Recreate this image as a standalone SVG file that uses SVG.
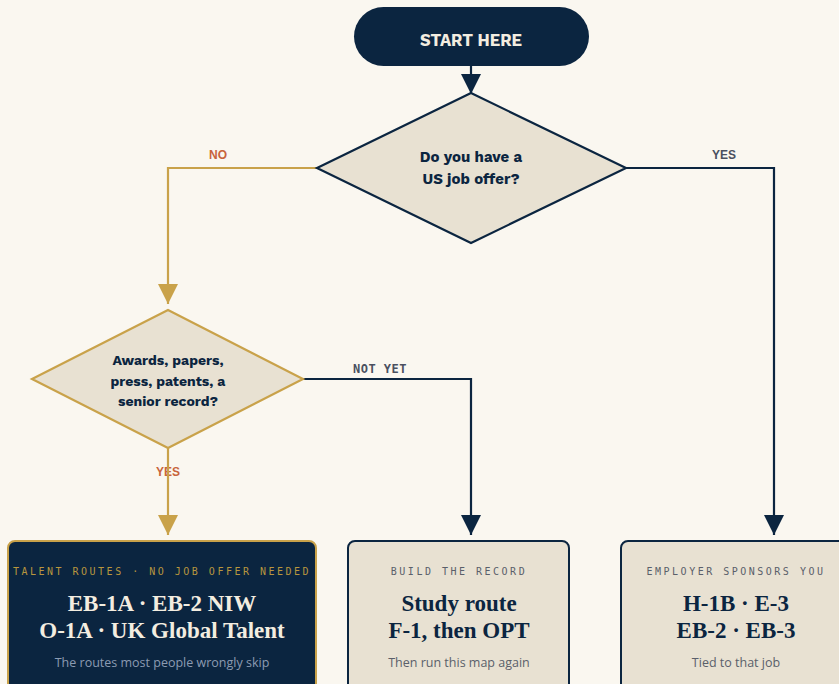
<svg xmlns="http://www.w3.org/2000/svg" width="839" height="684" viewBox="0 0 839 684">
<defs>
<style>
.bg{fill:#faf7f0}
.navy{stroke:#0b2540;stroke-width:2.2;fill:none}
.gold{stroke:#c9a24a;stroke-width:2.2;fill:none}
.dia{fill:#e8e1d2;stroke-width:2.2}
.q{font-family:"Work Sans","Liberation Sans",Arial,sans-serif;font-weight:700;fill:#0b2540;text-anchor:middle}
.lbl{font-family:"Liberation Sans",Arial,sans-serif;font-weight:700;font-size:12px}
.mono{font-family:"DejaVu Sans Mono","Liberation Mono",monospace;font-size:10px;letter-spacing:2.5px;text-anchor:middle}
.title{font-family:"Liberation Serif","Times New Roman",serif;font-weight:700;font-size:23px;text-anchor:middle}
.sub{font-family:"Open Sans","Liberation Sans",Arial,sans-serif;font-size:12.5px;text-anchor:middle}
</style>
<marker id="an" viewBox="0 0 20 20" refX="20" refY="10" markerWidth="20" markerHeight="20" markerUnits="userSpaceOnUse" orient="auto"><path d="M0,0 L20,10 L0,20 Z" fill="#0b2540"/></marker>
<marker id="ag" viewBox="0 0 20 20" refX="20" refY="10" markerWidth="20" markerHeight="20" markerUnits="userSpaceOnUse" orient="auto"><path d="M0,0 L20,10 L0,20 Z" fill="#c9a24a"/></marker>
</defs>
<rect class="bg" x="0" y="0" width="839" height="684"/>

<g id="labels">
<text class="lbl" x="218" y="159" text-anchor="middle" fill="#c8643c">NO</text>
<text class="lbl" x="724" y="159" text-anchor="middle" fill="#4a5060">YES</text>
<text class="lbl" x="380" y="373" text-anchor="middle" fill="#4a5060" style="font-family:'DejaVu Sans Mono','Liberation Mono',monospace;letter-spacing:0.5px">NOT YET</text>
<text class="lbl" x="168" y="476" text-anchor="middle" fill="#c8643c">YES</text>
</g>

<g id="connectors">
<path class="navy" d="M471,66 L471,94" marker-end="url(#an)"/>
<path class="gold" d="M317,168 L168,168 L168,304" marker-end="url(#ag)"/>
<path class="navy" d="M626,168 L774,168 L774,535" marker-end="url(#an)"/>
<path class="navy" d="M303,379 L471,379 L471,535" marker-end="url(#an)"/>
<path class="gold" d="M168,448 L168,535" marker-end="url(#ag)"/>
</g>

<g id="start">
<rect x="354" y="7" width="235" height="59" rx="29.5" fill="#0b2540"/>
<text x="471" y="45.5" text-anchor="middle" font-family="'Work Sans','Liberation Sans',Arial,sans-serif" font-weight="700" font-size="16.5" fill="#f3ede0">START HERE</text>
</g>

<g id="q1">
<polygon class="dia" points="471,93 626,168 471,243 317,168" stroke="#0b2540"/>
<text class="q" x="471" y="162" font-size="15">Do you have a</text>
<text class="q" x="471" y="184" font-size="15">US job offer?</text>
</g>

<g id="q2">
<polygon class="dia" points="168,310 303,379 168,448 32,379" stroke="#c9a24a"/>
<text class="q" x="168" y="365" font-size="14">Awards, papers,</text>
<text class="q" x="168" y="386" font-size="14">press, patents, a</text>
<text class="q" x="168" y="406" font-size="14">senior record?</text>
</g>

<g id="talent">
<rect x="8" y="541" width="308" height="160" rx="7" fill="#0b2540" stroke="#c9a24a" stroke-width="2"/>
<text class="mono" x="162" y="575" fill="#b8963e">TALENT ROUTES · NO JOB OFFER NEEDED</text>
<text class="title" x="162" y="611" fill="#f3ede0">EB-1A · EB-2 NIW</text>
<text class="title" x="162" y="638" fill="#f3ede0">O-1A · UK Global Talent</text>
<text class="sub" x="162" y="667" fill="#8b9bb2">The routes most people wrongly skip</text>
</g>

<g id="study">
<rect x="348" y="541" width="221" height="160" rx="7" fill="#e8e1d2" stroke="#0b2540" stroke-width="2"/>
<text class="mono" x="459" y="575" fill="#5a5f6a">BUILD THE RECORD</text>
<text class="title" x="459" y="611" fill="#0b2540">Study route</text>
<text class="title" x="459" y="638" fill="#0b2540">F-1, then OPT</text>
<text class="sub" x="459" y="667" fill="#5a5f6a">Then run this map again</text>
</g>

<g id="employer">
<rect x="621" y="541" width="230" height="160" rx="7" fill="#e8e1d2" stroke="#0b2540" stroke-width="2"/>
<text class="mono" x="736" y="575" fill="#5a5f6a">EMPLOYER SPONSORS YOU</text>
<text class="title" x="736" y="611" fill="#0b2540">H-1B · E-3</text>
<text class="title" x="736" y="638" fill="#0b2540">EB-2 · EB-3</text>
<text class="sub" x="736" y="667" fill="#5a5f6a">Tied to that job</text>
</g>
</svg>
